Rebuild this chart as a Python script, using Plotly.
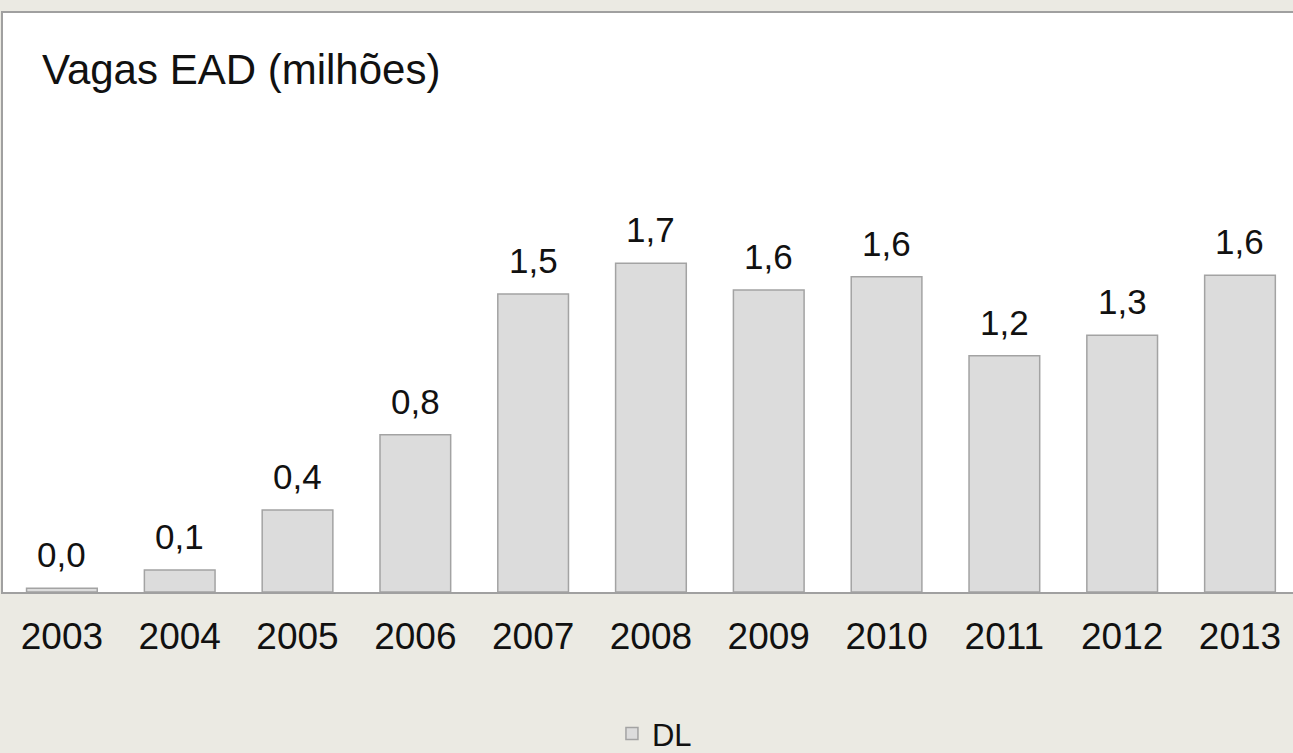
import plotly.graph_objects as go

# dados
anos = ['2003', '2004', '2005', '2006', '2007', '2008', '2009', '2010', '2011', '2012', '2013']
vagas = [0.02, 0.114, 0.425, 0.815, 1.544, 1.703, 1.565, 1.634, 1.224, 1.33, 1.641]
serie_nome = 'DL'
titulo = 'Vagas EAD (milhões)'

FONTE = 'Liberation Sans, Arial, sans-serif'
fig = go.Figure()

fig.add_trace(go.Bar(
    x=anos,
    y=vagas,
    name=serie_nome,
    width=0.6,
    marker=dict(color='#dcdcdc', line=dict(color='#a3a3a3', width=1.5)),
    hoverinfo='skip'
))

# rótulos acima das barras (eixo categórico -> posição pelo índice)
for i, v in enumerate(vagas):
    fig.add_annotation(
        x=i, y=v,
        text=f'{v:.1f}'.replace('.', ','),
        showarrow=False,
        yanchor='bottom',
        yshift=12,
        font=dict(size=35, color='#111111', family=FONTE)
    )

fig.update_layout(
    width=1293,
    height=753,
    title=dict(
        text=titulo,
        x=42 / 1293, xref='container', xanchor='left',
        y=1 - 69 / 753, yref='container', yanchor='middle',
        font=dict(size=42, color='#111111', family=FONTE)
    ),
    showlegend=True,
    legend=dict(
        orientation='h',
        x=0.505, xanchor='center',
        y=-0.245, yanchor='middle',
        font=dict(size=31, color='#111111', family=FONTE),
        bgcolor='rgba(0,0,0,0)'
    ),
    margin=dict(t=13, b=161, l=3, r=0, autoexpand=False),
    plot_bgcolor='white',
    paper_bgcolor='#ebeae3',
    font=dict(family=FONTE, color='#111111'),
    bargap=0.4
)

fig.update_xaxes(
    type='category',
    range=[-0.5, 10.45],
    showgrid=False,
    showline=True, mirror=True, linecolor='#a0a0a0', linewidth=1.5,
    tickfont=dict(size=37, color='#111111', family=FONTE),
    tickangle=0,
    ticklabelstandoff=11
)
fig.update_yaxes(
    range=[0, 3],
    showgrid=False,
    showticklabels=False,
    showline=True, mirror=True, linecolor='#a0a0a0', linewidth=1.5,
    zeroline=False
)

fig.write_html('out.html', config={'displayModeBar': False},
               post_script="document.body.style.margin='0';")
